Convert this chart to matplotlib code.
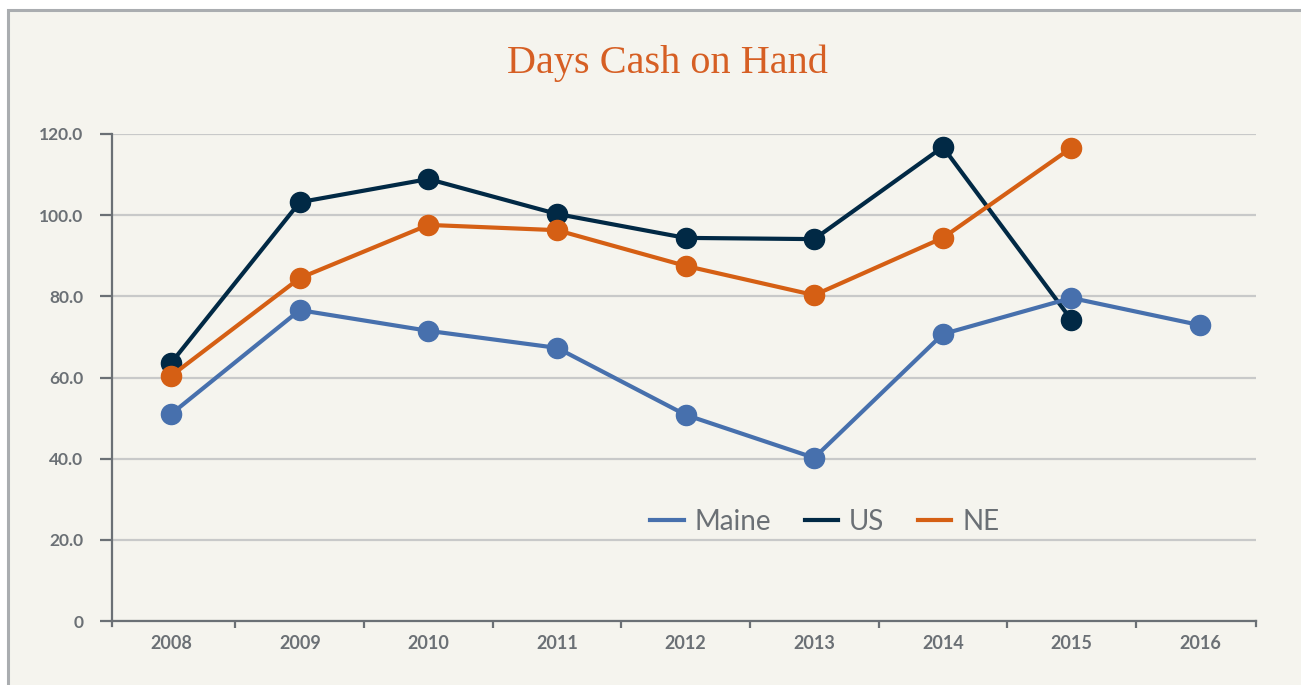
import numpy as np
import matplotlib
matplotlib.use("Agg")
import matplotlib.pyplot as plt
from matplotlib.patches import Rectangle

years = ["2008", "2009", "2010", "2011", "2012", "2013", "2014", "2015", "2016"]
maine = [51.0, 76.6, 71.5, 67.3, 50.8, 40.2, 70.7, 79.6, 72.9]
us = [63.6, 103.2, 108.9, 100.3, 94.4, 94.1, 116.8, 74.2, None]
ne = [60.4, 84.5, 97.6, 96.3, 87.5, 80.3, 94.4, 116.6, None]
y_ticks = [0, 20, 40, 60, 80, 100, 120]

BG = "#f5f4ee"
GRAY = "#6b7075"
C_MAINE = "#4770ad"
C_US = "#012945"
C_NE = "#d55f14"

plt.rcParams['font.family'] = ['Lato', 'DejaVu Sans']

fig = plt.figure(figsize=(13.01, 6.85), dpi=100)
fig.patch.set_facecolor("white")
# framed panel (grey border on left and top)
fig.patches.append(Rectangle((8 / 1301, -0.1), 1.2, 1.1 - 10 / 685,
                             transform=fig.transFigure, facecolor=BG,
                             edgecolor="#aaadb0", linewidth=2.2, zorder=-10))

ax = fig.add_axes([112 / 1301, 64 / 685, 1144 / 1301, (621 - 134) / 685])
ax.set_facecolor("none")

x = np.arange(len(years))


def to_arr(vals):
    return np.array([np.nan if v is None else v for v in vals], dtype=float)


series = [("US", us, C_US), ("NE", ne, C_NE), ("Maine", maine, C_MAINE)]
handles = {}
for name, vals, col in series:
    ax.plot(x, to_arr(vals), color=col, lw=3.0, marker="o", ms=14.5,
            clip_on=False, zorder=3, solid_capstyle="round")
    handles[name] = plt.Line2D([], [], color=col, lw=3.0)

ax.set_xlim(-0.46, len(years) - 1 + 0.435)
ax.set_ylim(0, 120)
ax.set_yticks(y_ticks)
ax.set_yticklabels(["0" if v == 0 else f"{v:.1f}" for v in y_ticks])
ax.set_xticks(x)
ax.set_xticklabels(years)
ax.set_xticks(np.arange(0.5, len(years) - 1), minor=True)

ax.grid(axis="y", color="#c8c9c9", lw=1.6, zorder=0)
ax.set_axisbelow(True)

for s in ["top", "right"]:
    ax.spines[s].set_visible(False)
for s in ["left", "bottom"]:
    ax.spines[s].set_color(GRAY)
    ax.spines[s].set_linewidth(1.6)

ax.tick_params(axis="y", length=8.5, width=1.6, color=GRAY, labelcolor=GRAY,
               labelsize=12.5, pad=12)
ax.tick_params(axis="x", which="major", length=0, labelcolor=GRAY,
               labelsize=13, pad=10)
ax.tick_params(axis="x", which="minor", length=5, width=1.6, color=GRAY)
for lab in ax.get_xticklabels() + ax.get_yticklabels():
    lab.set_fontweight("bold")

# end ticks at the two ends of the x axis
for xe in ax.get_xlim():
    ax.plot([xe, xe], [0, -1.2], color=GRAY, lw=1.6, clip_on=False)

leg = ax.legend([handles["Maine"], handles["US"], handles["NE"]],
                ["Maine", "US", "NE"], loc="center", bbox_to_anchor=(0.623, 0.203),
                ncol=3, frameon=False, fontsize=20, handlelength=1.2,
                handletextpad=0.4, columnspacing=1.2)
for t in leg.get_texts():
    t.set_color(GRAY)

fig.text(667 / 1301, 1 - 73 / 685, "Days Cash on Hand", ha="center", va="baseline",
         fontsize=29, color="#d65f24", family=["Liberation Serif", "DejaVu Serif"])

fig.savefig("out.png", dpi=100, facecolor=fig.get_facecolor())
